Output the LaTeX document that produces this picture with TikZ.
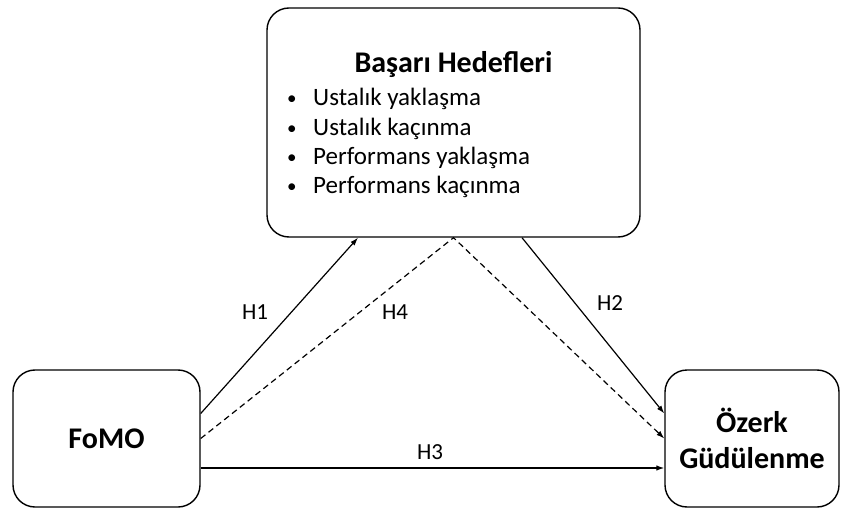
\documentclass[tikz,border=0pt]{standalone}
\usepackage{fontspec}
\setmainfont{Carlito}
\usepackage{tikz}
\usetikzlibrary{arrows.meta}

\begin{document}
\begin{tikzpicture}[x=1pt, y=1pt,
    varbox/.style={draw, line width=1.4pt, rounded corners=22pt, inner sep=0pt},
    varname/.style={font=\bfseries\fontsize{30}{36}\selectfont},
    goalitem/.style={anchor=base west, inner sep=0pt, font=\fontsize{25}{30}\selectfont},
    hlabel/.style={font=\fontsize{23}{26}\selectfont, inner sep=1pt},
    link/.style={line width=1.2pt, -{Latex[length=8pt, width=5.5pt]}},
    dashlink/.style={link, dash pattern=on 6pt off 4pt}]
  \useasboundingbox (0,0) rectangle (842,509);
  \node[varbox, minimum width=373pt, minimum height=229pt] (goals) at (453.5,386.5) {};
  \node[varname, anchor=base] (goalstitle) at (453.5,436) {Başarı Hedefleri};
  \foreach \goal [count=\i] in {Ustalık yaklaşma, Ustalık kaçınma, Performans yaklaşma, Performans kaçınma}
    \node[goalitem] (goal\i) at (287,432.3-29.3*\i) {\makebox[26pt][l]{\raisebox{1pt}{\fontsize{19}{20}\selectfont\textbullet}}\goal};
  \node[varbox, varname, minimum width=187pt, minimum height=137pt] (fomo) at (106.5,70.5) {FoMO};
  \node[varbox, varname, minimum width=174pt, minimum height=137pt, align=center] (ozerk) at (752,70.5) {Özerk\\Güdülenme};
  \draw[link] ([yshift=25pt]fomo.east) -- ([xshift=-95.5pt]goals.south);
  \draw[link] ([xshift=68.5pt]goals.south) -- ([yshift=25pt]ozerk.west);
  \draw[link] ([yshift=-29.5pt]fomo.east) -- ([yshift=-29.5pt]ozerk.west);
  \draw[dashlink] (fomo.east) -- (goals.south) -- (ozerk.west);
  \node[hlabel] (h1) at (255,197) {H1};
  \node[hlabel] (h4) at (395,197) {H4};
  \node[hlabel] (h2) at (610,206) {H2};
  \node[hlabel] (h3) at (430,57) {H3};
\end{tikzpicture}
\end{document}
